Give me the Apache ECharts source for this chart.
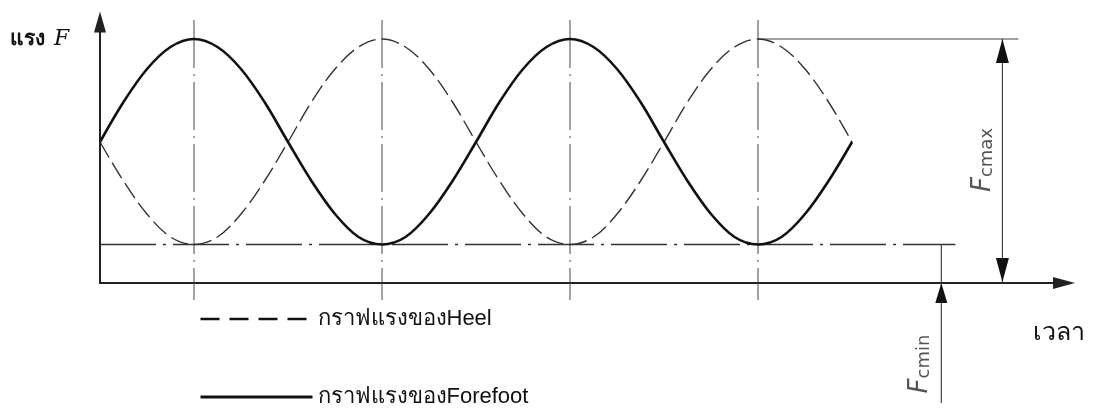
<!DOCTYPE html>
<html>
<head>
<meta charset="utf-8">
<script src="https://cdn.jsdelivr.net/npm/echarts@6/dist/echarts.min.js"></script>
<style>
  html, body { margin: 0; padding: 0; background: #fff; }
  #chart { width: 1094px; height: 420px; }
</style>
</head>
<body>
<div id="chart"></div>
<script>
// time in quarter periods, force in arbitrary units
const times = [0, 0.25, 0.5, 0.75, 1, 1.25, 1.5, 1.75, 2, 2.25, 2.5, 2.75, 3, 3.25, 3.5, 3.75, 4,
  4.25, 4.5, 4.75, 5, 5.25, 5.5, 5.75, 6, 6.25, 6.5, 6.75, 7, 7.25, 7.5, 7.75, 8];
const forefoot = [14.1, 18.1, 21.4, 23.6, 24.4, 23.6, 21.4, 18.1, 14.1, 10.2, 6.9, 4.6, 3.85, 4.6, 6.9, 10.2, 14.1,
  18.1, 21.4, 23.6, 24.4, 23.6, 21.4, 18.1, 14.1, 10.2, 6.9, 4.6, 3.85, 4.6, 6.9, 10.2, 14.1];
const heel = [14.1, 10.2, 6.9, 4.6, 3.85, 4.6, 6.9, 10.2, 14.1, 18.1, 21.4, 23.6, 24.4, 23.6, 21.4, 18.1, 14.1,
  10.2, 6.9, 4.6, 3.85, 4.6, 6.9, 10.2, 14.1, 18.1, 21.4, 23.6, 24.4, 23.6, 21.4, 18.1, 14.1];
const guideTimes = [1, 3, 5, 7];
const fMax = 24.4;
const fMin = 3.85;
const heelName = 'กราฟแรงของHeel';
const foreName = 'กราฟแรงของForefoot';

// where the dimension lines sit (time units)
const baseEnd = 9.1;
const topStart = 7;
const topEnd = 9.77;
const dimMaxT = 9.6;
const dimMinT = 8.95;

const ink = '#111';
const thin = '#444';

let chart = echarts.init(document.getElementById('chart'));

function pts(arrX, arrY) {
  return arrX.map((t, i) => [t, arrY[i]]);
}

function plain(name, data, style) {
  return {
    name: name,
    type: 'line',
    data: data,
    clip: false,
    silent: true,
    symbol: 'none',
    showSymbol: true,
    showAllSymbol: true,
    lineStyle: style,
    z: 1
  };
}

let series = [];
// dash-dot guides at each peak / trough
guideTimes.forEach((t, i) => {
  series.push(plain('guide' + i, [[t, 26.3], [t, -1.7]], { color: thin, width: 1, type: [48, 6, 2, 6] }));
});
// Fcmin level
series.push(plain('base', [[0, fMin], [baseEnd, fMin]], { color: '#333', width: 1.6, type: [56, 7, 3, 7] }));
// Fcmax level
series.push(plain('top', [[topStart, fMax], [topEnd, fMax]], { color: thin, width: 1.2 }));
// Fcmax dimension
series.push(plain('dimMax', [
  [dimMaxT, fMax],
  { value: [dimMaxT, 23.2], symbol: 'triangle', symbolSize: [13, 24], symbolRotate: 0, itemStyle: { color: ink } },
  { value: [dimMaxT, 1.3], symbol: 'triangle', symbolSize: [13, 24], symbolRotate: 180, itemStyle: { color: ink } },
  [dimMaxT, 0]
], { color: thin, width: 1.2 }));
// Fcmin dimension
series.push(plain('dimMin', [
  [dimMinT, fMin],
  { value: [dimMinT, -1.0], symbol: 'triangle', symbolSize: [12, 20], symbolRotate: 0, itemStyle: { color: ink } },
  [dimMinT, -12]
], { color: thin, width: 1.2 }));

series.push({
  name: heelName,
  type: 'line',
  data: pts(times, heel),
  smooth: 0.35,
  symbol: 'none',
  clip: false,
  lineStyle: { color: '#333', width: 1.4, type: [18, 6] },
  itemStyle: { color: '#333' },
  z: 3
});
series.push({
  name: foreName,
  type: 'line',
  data: pts(times, forefoot),
  smooth: 0.35,
  symbol: 'none',
  clip: false,
  lineStyle: { color: ink, width: 2.6 },
  itemStyle: { color: ink },
  z: 4
});

let option = {
  animation: false,
  backgroundColor: '#fff',
  grid: { left: 100, right: 30, top: 22, bottom: 137 },
  xAxis: {
    type: 'value',
    min: 0,
    max: 10.255,
    axisLine: { show: true, onZero: false, symbol: ['none', 'triangle'], symbolSize: [12, 22], lineStyle: { color: '#222', width: 2 } },
    axisTick: { show: false },
    axisLabel: { show: false },
    splitLine: { show: false }
  },
  yAxis: {
    type: 'value',
    min: 0,
    max: 26.1,
    axisLine: { show: true, onZero: false, symbol: ['none', 'triangle'], symbolSize: [12, 21], lineStyle: { color: '#222', width: 2 } },
    axisTick: { show: false },
    axisLabel: { show: false },
    splitLine: { show: false }
  },
  legend: {
    data: [
      { name: heelName, lineStyle: { type: [19, 10], width: 2.7, color: ink } },
      { name: foreName, lineStyle: { width: 3, color: ink } }
    ],
    orient: 'vertical',
    left: 199,
    top: 307,
    padding: 0,
    itemWidth: 112,
    itemHeight: 14,
    itemGap: 54,
    selectedMode: false,
    itemStyle: { opacity: 0, borderWidth: 0 },
    textStyle: { fontSize: 22, lineHeight: 24, fontWeight: 'normal', color: ink, fontFamily: 'sans-serif' }
  },
  graphic: [
    {
      type: 'text', x: 10, y: 39,
      style: {
        text: '{a|แรง}{b|F}',
        verticalAlign: 'middle',
        rich: {
          a: { fontSize: 21, fontWeight: 'bold', fill: ink, fontFamily: 'sans-serif' },
          b: { fontSize: 22, fontStyle: 'italic', fill: ink, fontFamily: 'DejaVu Serif', padding: [0, 0, 0, 9] }
        }
      }
    },
    {
      type: 'text', x: 1033, y: 333,
      style: { text: 'เวลา', fontSize: 25, fontWeight: 'normal', fill: ink, verticalAlign: 'middle', fontFamily: 'sans-serif' }
    },
    {
      type: 'text', x: 983, y: 160, rotation: Math.PI / 2,
      style: {
        text: '{f|F}{s|cmax}', align: 'center', verticalAlign: 'middle',
        rich: {
          f: { fontSize: 26, lineHeight: 26, verticalAlign: 'top', fontStyle: 'italic', fill: '#555', fontFamily: 'DejaVu Sans' },
          s: { fontSize: 18, lineHeight: 18, padding: [16, 0, 0, 0], verticalAlign: 'bottom', fill: '#555', fontFamily: 'DejaVu Sans' }
        }
      }
    },
    {
      type: 'text', x: 920, y: 364, rotation: Math.PI / 2,
      style: {
        text: '{f|F}{s|cmin}', align: 'center', verticalAlign: 'middle',
        rich: {
          f: { fontSize: 26, lineHeight: 26, verticalAlign: 'top', fontStyle: 'italic', fill: '#555', fontFamily: 'DejaVu Sans' },
          s: { fontSize: 18, lineHeight: 18, padding: [16, 0, 0, 0], verticalAlign: 'bottom', fill: '#555', fontFamily: 'DejaVu Sans' }
        }
      }
    }
  ],
  series: series
};

chart.setOption(option);
</script>
</body>
</html>
